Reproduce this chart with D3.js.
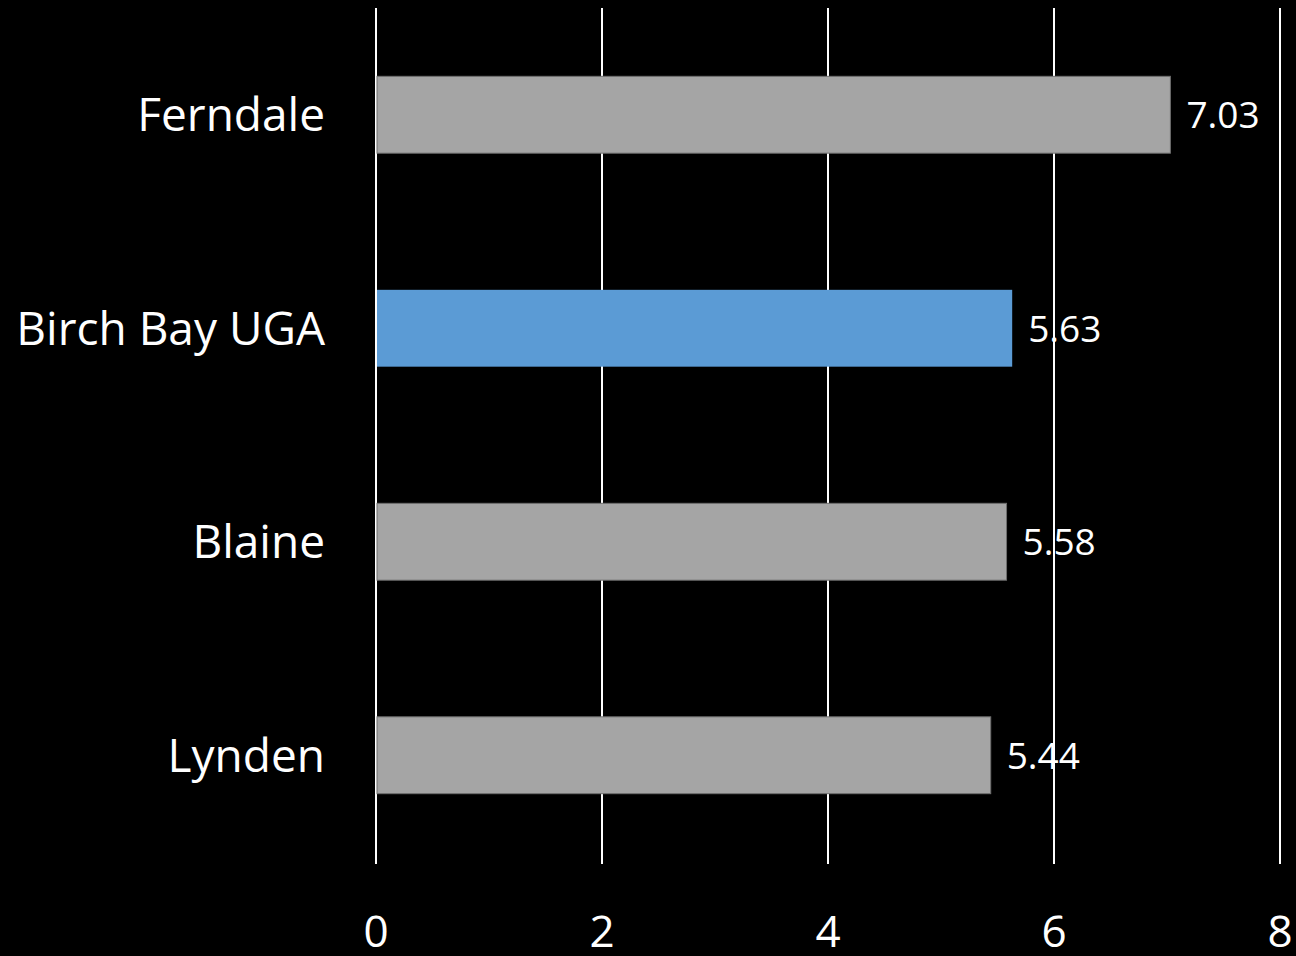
<!DOCTYPE html>
<html><head><meta charset="utf-8">
<script src="https://cdn.jsdelivr.net/npm/d3@7"></script>
<style>html,body{margin:0;padding:0;background:#000;}</style>
</head><body>
<svg id="c" width="1296" height="956"></svg>
<script>
const categories = ["Ferndale", "Birch Bay UGA", "Blaine", "Lynden"];
const values = [7.03, 5.63, 5.58, 5.44];
const colors = ["#a5a5a5", "#5b9bd5", "#a5a5a5", "#a5a5a5"];
const tickValues = [0, 2, 4, 6, 8];

const svg = d3.select("#c");
const font = "'Open Sans', 'DejaVu Sans', sans-serif";
const x = d3.scaleLinear().domain([0, 8]).range([376, 1280]);
const y = d3.scaleBand().domain(categories).range([8, 862]).paddingInner(0.64).paddingOuter(0.32);

svg.append("rect").attr("width", 1296).attr("height", 956).attr("fill", "#000");

// gridlines
svg.append("g").selectAll("line").data(tickValues).join("line")
  .attr("x1", d => x(d)).attr("x2", d => x(d))
  .attr("y1", 8).attr("y2", 864)
  .attr("stroke", "#fff").attr("stroke-width", 2);

// bars
svg.append("g").selectAll("rect").data(categories).join("rect")
  .attr("x", x(0) + 1)
  .attr("y", d => y(d))
  .attr("width", (d, i) => x(values[i]) - x(0) - 1)
  .attr("height", y.bandwidth())
  .attr("fill", (d, i) => colors[i])
  .attr("stroke", (d, i) => i === 1 ? "none" : "#6e6e6e")
  .attr("stroke-width", 1);

// value labels
svg.append("g").selectAll("text").data(categories).join("text")
  .attr("x", (d, i) => x(values[i]) + 16)
  .attr("y", d => y(d) + y.bandwidth() / 2)
  .attr("dy", "0.36em")
  .attr("fill", "#fff")
  .attr("font-family", font)
  .attr("font-size", 37)
  .text((d, i) => values[i].toFixed(2));

// category labels
svg.append("g").selectAll("text").data(categories).join("text")
  .attr("x", 325)
  .attr("y", d => y(d) + y.bandwidth() / 2)
  .attr("dy", "0.36em")
  .attr("text-anchor", "end")
  .attr("fill", "#fff")
  .attr("font-family", font)
  .attr("font-size", 46)
  .text(d => d);

// x tick labels
svg.append("g").selectAll("text").data(tickValues).join("text")
  .attr("x", d => x(d))
  .attr("y", 947)
  .attr("text-anchor", "middle")
  .attr("fill", "#fff")
  .attr("font-family", font)
  .attr("font-size", 44)
  .text(d => d);
</script>
</body></html>
